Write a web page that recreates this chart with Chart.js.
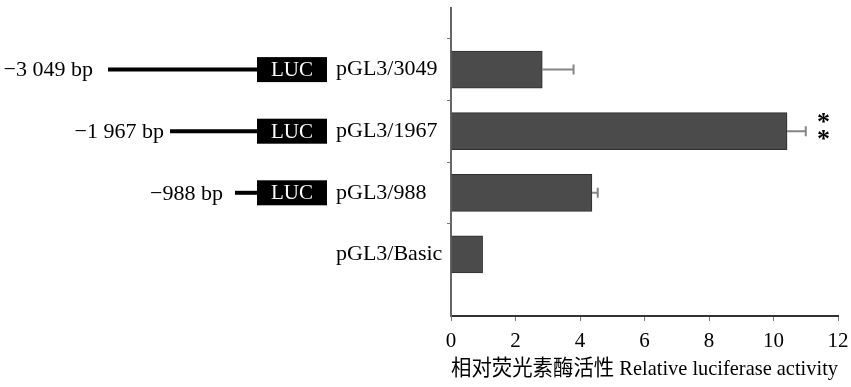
<!DOCTYPE html>
<html>
<head>
<meta charset="utf-8">
<script src="https://cdn.jsdelivr.net/npm/chart.js@4/dist/chart.umd.min.js"></script>
<style>
html,body{margin:0;padding:0;background:#fff;}
canvas{display:block;}
</style>
</head>
<body>
<canvas id="c" width="851" height="387"></canvas>
<script>
// ---- data ----
const categories = ['', 'pGL3/3049', 'pGL3/1967', 'pGL3/988', 'pGL3/Basic', ''];
const activity = [null, 2.83, 10.42, 4.37, 0.98, null];
const errorUpper = [null, 0.97, 0.58, 0.18, 0, null];
const significance = ['', '', '**', '', '', ''];
const promoterLabels = ['', '\u22123 049 bp', '\u22121 967 bp', '\u2212988 bp', '', ''];
const xTicks = [0, 2, 4, 6, 8, 10, 12];
const axisTitle = '相对荧光素酶活性 Relative luciferase activity';

const SERIF = '"Liberation Serif", "Times New Roman", "Noto Sans CJK SC", serif';

// decoration layout (not data)
const diagramLayout = {
  lineStart: {1: 108, 2: 170, 3: 235},
  labelGap: {1: 15, 2: 6, 3: 12},
  boxLeft: 257, boxRight: 327, boxHeight: 25, lineWidth: 4
};

const decorPlugin = {
  id: 'decor',
  afterDatasetsDraw(chart) {
    const ctx = chart.ctx;
    const xs = chart.scales.x, ys = chart.scales.y;
    ctx.save();
    // error bars
    ctx.strokeStyle = '#858585';
    ctx.lineWidth = 2;
    activity.forEach((v, i) => {
      const e = errorUpper[i];
      if (v == null || !e) return;
      const y = ys.getPixelForValue(i);
      const x0 = xs.getPixelForValue(v);
      const x1 = xs.getPixelForValue(v + e);
      ctx.beginPath();
      ctx.moveTo(x0, y); ctx.lineTo(x1, y);
      ctx.moveTo(x1, y - 5); ctx.lineTo(x1, y + 5);
      ctx.stroke();
    });
    // significance asterisks
    ctx.fillStyle = '#000';
    ctx.font = 'bold 26px ' + SERIF;
    ctx.textAlign = 'center';
    ctx.textBaseline = 'middle';
    significance.forEach((s, i) => {
      if (!s) return;
      const y = ys.getPixelForValue(i);
      const x = xs.getPixelForValue(11.55);
      const n = s.length;
      for (let k = 0; k < n; k++) {
        ctx.fillText('*', x, y + 1 + (k - (n - 1) / 2) * 17);
      }
    });
    // construct diagrams
    const L = diagramLayout;
    promoterLabels.forEach((lab, i) => {
      if (!lab) return;
      const y = ys.getPixelForValue(i);
      ctx.strokeStyle = '#000';
      ctx.lineWidth = L.lineWidth;
      ctx.beginPath();
      ctx.moveTo(L.lineStart[i], y);
      ctx.lineTo(L.boxLeft, y);
      ctx.stroke();
      ctx.fillStyle = '#000';
      ctx.fillRect(L.boxLeft, y - L.boxHeight / 2, L.boxRight - L.boxLeft, L.boxHeight);
      ctx.fillStyle = '#fff';
      ctx.font = '21px ' + SERIF;
      ctx.textAlign = 'center';
      ctx.textBaseline = 'middle';
      ctx.fillText('LUC', (L.boxLeft + L.boxRight) / 2, y + 1);
      ctx.fillStyle = '#000';
      ctx.font = '22px ' + SERIF;
      ctx.textAlign = 'right';
      ctx.fillText(lab, L.lineStart[i] - L.labelGap[i], y + 1);
    });
    ctx.restore();
  }
};

new Chart(document.getElementById('c'), {
  type: 'bar',
  data: {
    labels: categories,
    datasets: [{
      data: activity,
      backgroundColor: '#4b4b4b',
      borderColor: '#2e2e2e',
      borderWidth: 1,
      barThickness: 37
    }]
  },
  options: {
    indexAxis: 'y',
    responsive: false,
    animation: false,
    devicePixelRatio: 1,
    layout: {padding: {left: 336, right: 13, top: 8, bottom: 0}},
    plugins: {legend: {display: false}, tooltip: {enabled: false}},
    scales: {
      x: {
        min: 0, max: 12,
        afterBuildTicks: (s) => { s.ticks = xTicks.map(v => ({value: v})); },
        afterFit: (s) => { s.height = 71; s.paddingLeft = 0; s.paddingRight = 0; },
        grid: {drawOnChartArea: false, drawTicks: true, tickLength: 5, color: '#777'},
        border: {color: '#333', width: 2},
        ticks: {color: '#000', font: {family: SERIF, size: 21}, padding: 8},
        title: {display: true, text: axisTitle, color: '#000', font: {family: SERIF, size: 22}, padding: {top: 0, bottom: 5}}
      },
      y: {
        offset: false,
        afterFit: (s) => { s.width = 115; s.paddingTop = 0; s.paddingBottom = 0; },
        grid: {
          drawOnChartArea: false, drawTicks: true, tickLength: 4,
          color: (c) => (c.index === 0 || c.index === categories.length - 1) ? 'rgba(0,0,0,0)' : '#777'
        },
        border: {color: '#666', width: 2},
        ticks: {color: '#000', crossAlign: 'far', font: {family: SERIF, size: 22}, padding: 4, autoSkip: false}
      }
    }
  },
  plugins: [decorPlugin]
});
</script>
</body>
</html>
